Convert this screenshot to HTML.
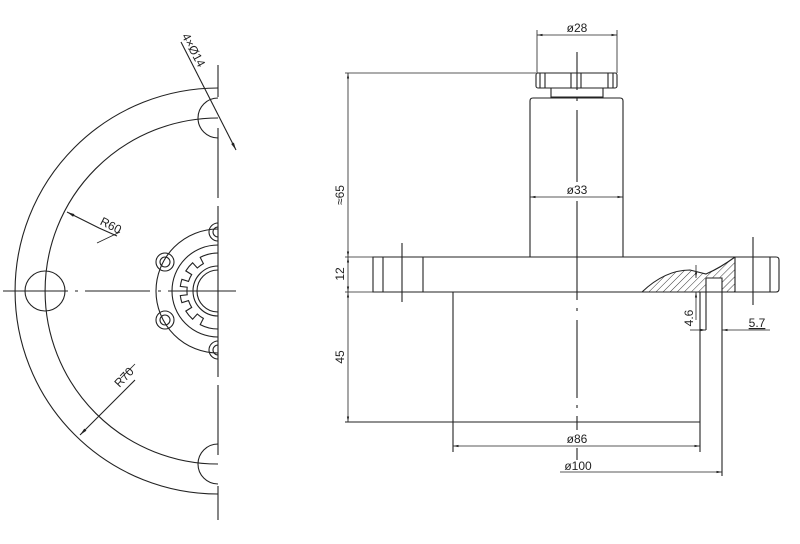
<!DOCTYPE html>
<html><head><meta charset="utf-8"><style>
html,body{margin:0;padding:0;background:#fff;}
svg{display:block;}
text{font-family:"Liberation Sans",sans-serif;font-size:12px;fill:#222;}
</style></head><body>
<svg width="800" height="544" viewBox="0 0 800 544" xmlns="http://www.w3.org/2000/svg">
<defs>
<marker id="a" viewBox="0 0 10 10" refX="10" refY="5" markerWidth="7" markerHeight="7" orient="auto-start-reverse"><path d="M0,3 L10,5 L0,7 z" fill="#222"/></marker>
<pattern id="h" width="5" height="5" patternUnits="userSpaceOnUse" patternTransform="rotate(45)"><line x1="0" y1="0" x2="0" y2="5" stroke="#222" stroke-width="0.9"/></pattern>
<clipPath id="hc"><path d="M642,292 Q665,270 690,270 L706,274 Q720,268 735,257 L735,292 L722,292 L722,278 L706,278 L706,292 Z"/></clipPath>
</defs>
<g stroke="#222" stroke-width="1.1" fill="none">
<path d="M218,88 A203,203 0 0 0 218,494"/>
<path d="M218,118 A173,173 0 0 0 218,464"/>
<circle cx="45" cy="291" r="20"/>
<path d="M218,98 A20,20 0 0 0 218,138"/>
<path d="M218,444 A20,20 0 0 0 218,484"/>
<path d="M218,65 V97 M218,128 V198 M218,206 V377 M218,385 V455 M218,486 V520"/>
<path d="M3,291 H68 M75,291 H78 M85,291 H150 M158,291 H161 M168,291 H236"/>
<path d="M218,229 A62,62 0 0 0 218,353"/>
<circle cx="165" cy="262" r="9"/><circle cx="165" cy="262" r="5"/>
<circle cx="165" cy="320" r="9"/><circle cx="165" cy="320" r="5"/>
<path d="M218,223 A9,9 0 0 0 218,241 M218,227 A5,5 0 0 0 218,237"/>
<path d="M218,341 A9,9 0 0 0 218,359 M218,345 A5,5 0 0 0 218,355"/>
<path d="M218,245 A46,46 0 0 0 218,337"/>
<path id="gear" d=""/>
<path d="M218,266 A25,25 0 0 0 218,316"/>
<path d="M218,270 A21,21 0 0 0 218,312"/>
<path d="M181,42 L236,150" marker-end="url(#a)"/>
<path d="M117,236 L99,228 L67,212" marker-end="url(#a)"/>
<path d="M97,243 L120,232" stroke-width="0.8"/>
<path d="M135,380 L80,435" marker-end="url(#a)"/>
<path d="M121,378 L135,364" stroke-width="0.8"/>

<rect x="536" y="73" width="81" height="15" rx="2"/>
<path d="M540,73 V88 M545,73 V88 M571,73 V88 M581,73 V88 M608,73 V88 M613,73 V88"/>
<path d="M551,88 V97 H603 V88"/>
<path d="M530,257 V101 Q530,98 533,98 H620 Q623,98 623,101 V257"/>
<path d="M373,257 H776 Q779,257 779,260 V289 Q779,292 776,292 H373 Z"/>
<path d="M383,257 V292 M423,257 V292 M402,243 V302 M735,257 V292 M770,257 V292 M753,237 V305"/>
<path d="M453,292 V452 M700,292 V452 M345,422 H700"/>
<path d="M706,278 H722 V476 M706,278 V330"/>
<path d="M642,292 Q665,270 690,270 L706,274 Q720,268 735,257"/>
<rect x="640" y="255" width="100" height="40" fill="url(#h)" stroke="none" clip-path="url(#hc)"/>
<path d="M577,52 V90 M577,98 V101 M577,110 V182 M577,201 V300 M577,308 V311 M577,320 V398 M577,405 V408 M577,416 V430 M577,448 V460"/>
<path d="M537,30 V73 M617,30 V73" stroke-width="0.8"/>
<path d="M537,35 H617" stroke-width="0.8" marker-start="url(#a)" marker-end="url(#a)"/>
<path d="M530,197 H623" stroke-width="0.8" marker-start="url(#a)" marker-end="url(#a)"/>
<path d="M345,73 H536 M345,257 H373 M345,292 H373" stroke-width="0.8"/>
<path d="M348,73 V257" stroke-width="0.8" marker-start="url(#a)" marker-end="url(#a)"/>
<path d="M348,257 V292" stroke-width="0.8" marker-start="url(#a)" marker-end="url(#a)"/>
<path d="M348,292 V422" stroke-width="0.8" marker-start="url(#a)" marker-end="url(#a)"/>
<path d="M453,446 H700" stroke-width="0.8" marker-start="url(#a)" marker-end="url(#a)"/>
<path d="M560,472 H722" stroke-width="0.8" marker-end="url(#a)"/>
<path d="M696,265 V278" stroke-width="0.8" marker-end="url(#a)"/>
<path d="M696,320 V292" stroke-width="0.8" marker-end="url(#a)"/>
<path d="M690,330 H706" stroke-width="0.8" marker-end="url(#a)"/>
<path d="M770,330 H722" stroke-width="0.8" marker-end="url(#a)"/>
</g>
<text x="577" y="32" text-anchor="middle">ø28</text>
<text x="577" y="194" text-anchor="middle">ø33</text>
<text x="577" y="443" text-anchor="middle">ø86</text>
<text x="578" y="470" text-anchor="middle">ø100</text>
<text x="757" y="327" text-anchor="middle" style="text-decoration:underline">5.7</text>
<text transform="translate(344,195) rotate(-90)" text-anchor="middle">≈65</text>
<text transform="translate(344,274) rotate(-90)" text-anchor="middle">12</text>
<text transform="translate(344,357) rotate(-90)" text-anchor="middle">45</text>
<text transform="translate(693,318) rotate(-90)" text-anchor="middle">4.6</text>
<text transform="translate(190,52) rotate(62)" text-anchor="middle">4×Ø14</text>
<text transform="translate(109,229) rotate(27)" text-anchor="middle">R60</text>
<text transform="translate(127,380) rotate(-47)" text-anchor="middle">R70</text>
<script>
(function(){var cx=218,cy=291,r1=38,r2=31,notches=[125,155,180,205,235],w=7;
function p(r,t){t=t*Math.PI/180;return (cx+r*Math.cos(t)).toFixed(1)+","+(cy-r*Math.sin(t)).toFixed(1);}
var d="M"+p(r1,90);
notches.forEach(function(n){d+=" A"+r1+","+r1+" 0 0 0 "+p(r1,n-w)+" L"+p(r2,n-w)+" A"+r2+","+r2+" 0 0 0 "+p(r2,n+w)+" L"+p(r1,n+w);});
d+=" A"+r1+","+r1+" 0 0 0 "+p(r1,270);
document.getElementById("gear").setAttribute("d",d);})();
</script>
</svg>
</body></html>
